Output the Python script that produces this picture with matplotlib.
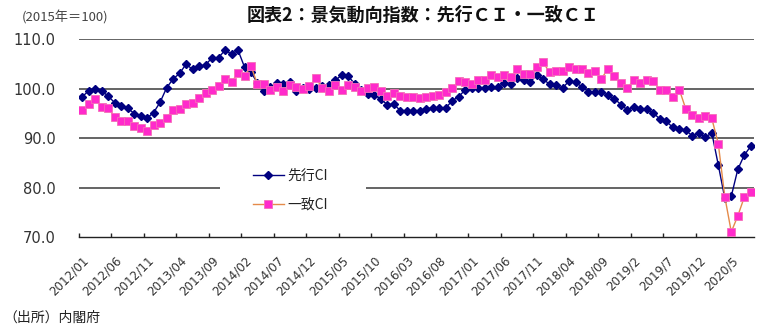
import matplotlib
matplotlib.use("Agg")
import matplotlib.pyplot as plt
from matplotlib.patches import Rectangle

plt.rcParams['font.family'] = ['Noto Sans CJK JP', 'DejaVu Sans']

# Monthly CI (2015 = 100), 2012/01 - 2020/08
leading_ci = [
    98.4, 99.6, 99.9, 99.6, 98.5, 97.2, 96.5, 96.1, 95.0, 94.6, 94.1, 95.2,
    97.3, 100.2, 102.0, 103.1, 105.0, 103.9, 104.6, 104.8, 106.3, 106.3, 107.8, 107.0,
    107.8, 104.4, 103.3, 101.2, 99.5, 100.3, 101.1, 101.0, 101.4, 99.5, 100.2, 100.0,
    100.1, 100.5, 100.8, 101.7, 102.8, 102.5, 101.0, 99.7, 99.0, 98.8, 97.9, 96.8,
    96.9, 95.6, 95.6, 95.6, 95.6, 96.0, 96.1, 96.1, 96.1, 97.6, 98.4, 99.8,
    100.2, 100.2, 100.2, 100.4, 100.4, 101.1, 100.9, 102.1, 101.8, 101.3, 102.8, 102.0,
    100.9, 100.7, 100.1, 101.6, 101.3, 100.4, 99.4, 99.3, 99.3, 98.7, 98.0, 96.8,
    95.7, 96.4, 95.9, 95.9, 95.1, 93.9, 93.4, 92.2, 91.8, 91.6, 90.5, 91.1,
    90.2, 91.1, 84.6, 77.9, 78.3, 83.7, 86.6, 88.4,
]
coincident_ci = [
    95.7, 96.9, 98.0, 96.3, 96.1, 94.3, 93.5, 93.5, 92.4, 92.0, 91.4, 92.7,
    93.0, 94.2, 95.7, 95.9, 97.0, 97.1, 98.1, 99.2, 99.8, 100.5, 101.9, 101.4,
    103.1, 102.5, 104.6, 100.9, 101.0, 99.8, 100.4, 99.6, 100.7, 100.4, 100.0, 100.5,
    102.1, 100.2, 99.5, 100.7, 99.8, 100.7, 100.3, 99.5, 100.1, 100.4, 99.5, 98.5,
    99.1, 98.6, 98.4, 98.3, 98.2, 98.3, 98.6, 98.8, 99.4, 100.1, 101.6, 101.3,
    101.0, 101.8, 101.7, 102.7, 102.4, 102.7, 102.3, 104.0, 103.0, 103.0, 104.4, 105.4,
    103.3, 103.5, 103.5, 104.5, 104.0, 103.9, 103.2, 103.5, 102.0, 104.1, 102.5, 101.2,
    100.2, 101.8, 101.1, 101.8, 101.5, 99.8, 99.8, 98.3, 99.8, 95.9, 94.8, 94.0,
    94.6, 94.0, 88.9, 78.2, 71.1, 74.3, 78.1, 79.1,
]
# Category labels shown every 5 months
tick_labels = [
    "2012/01", "2012/06", "2012/11", "2013/04", "2013/09", "2014/02", "2014/07",
    "2014/12", "2015/05", "2015/10", "2016/03", "2016/08", "2017/01", "2017/06",
    "2017/11", "2018/04", "2018/09", "2019/2", "2019/7", "2019/12", "2020/5",
]
y_ticks = [70, 80, 90, 100, 110]

W, H = 757, 329
fig = plt.figure(figsize=(W / 100, H / 100), dpi=100)
ax = fig.add_axes([79 / W, 1 - 237.3 / H, (754 - 79) / W, (237.3 - 39.3) / H])

n = len(leading_ci)
x = list(range(n))

ax.set_xlim(-0.5, n - 0.5)
ax.set_ylim(70, 110)

# horizontal gridlines
for v in y_ticks[1:]:
    ax.axhline(v, color='#3a3a3a', lw=1.1, zorder=1)

# white gap behind the legend
fig.patches.append(Rectangle((220 / W, 1 - 220 / H), 146 / W, 64 / H,
                             transform=fig.transFigure, facecolor='white',
                             edgecolor='none', zorder=2))

l1, = ax.plot(x, leading_ci, color='#000080', lw=1.0, marker='D', ms=3.9,
              mfc='#000080', mec='#000080', zorder=3, label='先行CI')
l2, = ax.plot(x, coincident_ci, color='#E58A4A', lw=1.0, marker='s', ms=5.2,
              mfc='#FF2ACB', mec='#F56FB8', mew=0.6, zorder=4, label='一致CI')

# axis styling
for s in ('left', 'top', 'right'):
    ax.spines[s].set_visible(False)
ax.spines['bottom'].set_color('#222222')
ax.spines['bottom'].set_linewidth(1.0)

ax.set_yticks(y_ticks)
ax.set_yticklabels([f"{v:.1f}" for v in y_ticks], family='DejaVu Sans',
                   fontsize=10.5, color='#333333')
ax.tick_params(axis='y', length=0, pad=17)

label_pos = [5 * i for i in range(len(tick_labels))]
ax.set_xticks([p - 0.5 for p in label_pos])
ax.set_xticklabels([])
ax.tick_params(axis='x', which='major', direction='in', length=3, width=1,
               color='#222222')
ax.set_xticks(label_pos, minor=True)
ax.set_xticklabels(tick_labels, minor=True, rotation=45, ha='right',
                   va='top', rotation_mode='anchor', family='DejaVu Sans',
                   fontsize=8.6, color='#333333')
ax.tick_params(axis='x', which='minor', length=0, pad=12)

leg = fig.legend(handles=[l1, l2], loc='upper left',
                 bbox_to_anchor=(246 / W, 1 - 162 / H), frameon=False,
                 fontsize=10, handlelength=2.2, handletextpad=0.3,
                 labelspacing=1.1, borderpad=0.0)
leg.set_zorder(5)
for t in leg.get_texts():
    t.set_color('#222222')

fig.text(423 / W, 1 - 15 / H, "図表2：景気動向指数：先行ＣＩ・一致ＣＩ",
         ha='center', va='center', fontsize=13, fontweight='bold',
         color='#111111')
fig.text(22 / W, 1 - 17 / H, "(2015年＝100)", ha='left', va='center',
         fontsize=9.5, color='#444444')
fig.text(3 / W, 1 - 318 / H, "（出所）内閣府", ha='left', va='center',
         fontsize=10, color='#222222')

fig.savefig("out.png", dpi=100)
